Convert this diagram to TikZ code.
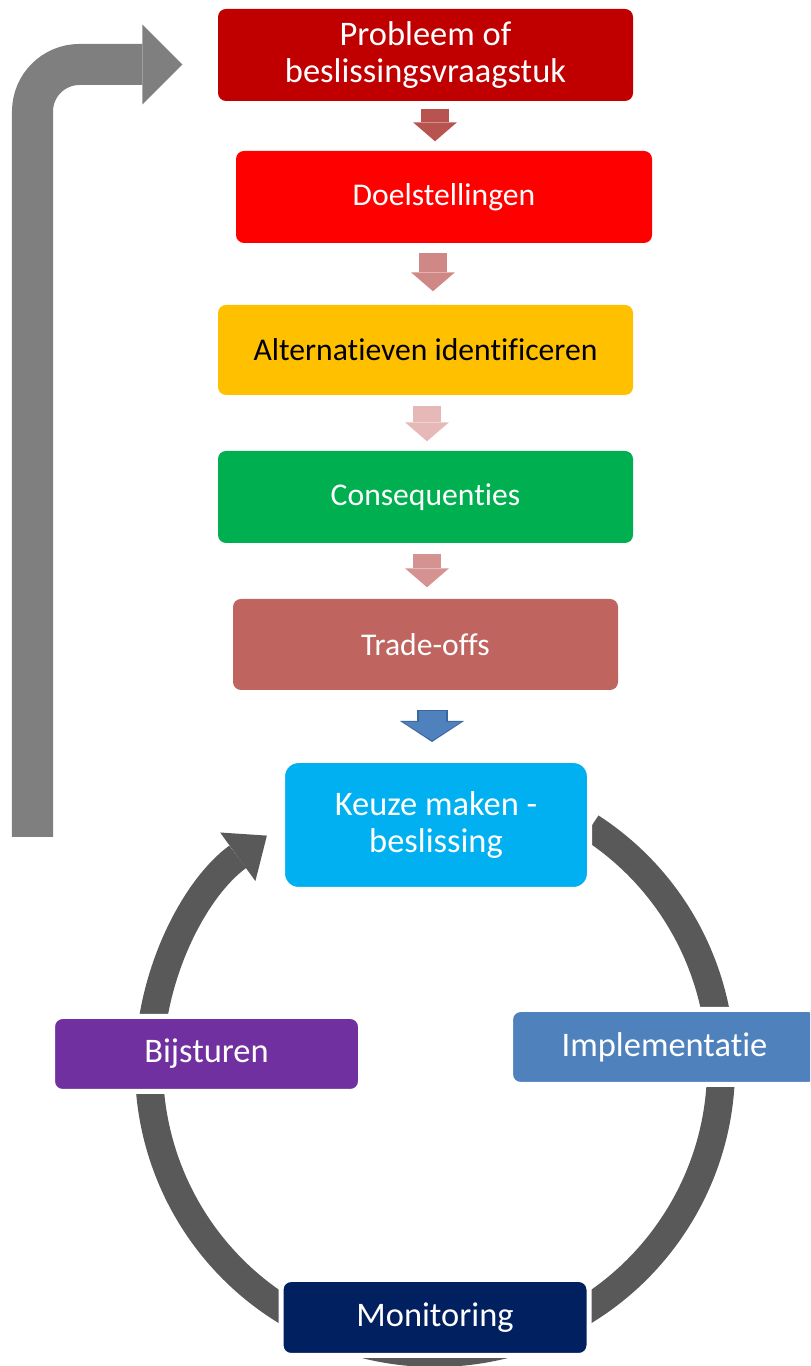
\documentclass[tikz,border=0pt]{standalone}
\usepackage{fontspec}
\setmainfont{Carlito}[Ligatures=NoCommon]
\usetikzlibrary{arrows.meta,positioning}
\definecolor{probleemrood}{HTML}{C00000}
\definecolor{doelrood}{HTML}{FF0000}
\definecolor{altgeel}{HTML}{FFC000}
\definecolor{consgroen}{HTML}{00B050}
\definecolor{tradeoffrood}{HTML}{BF645F}
\definecolor{keuzeblauw}{HTML}{00B0F0}
\definecolor{implblauw}{HTML}{4F81BD}
\definecolor{implrand}{HTML}{3A679C}
\definecolor{bijstpaars}{HTML}{7030A0}
\definecolor{monitorblauw}{HTML}{002060}
\definecolor{kringgrijs}{HTML}{595959}
\definecolor{teruggrijs}{HTML}{7F7F7F}
\definecolor{pijleen}{HTML}{B85450}
\definecolor{pijltwee}{HTML}{CF8886}
\definecolor{pijldrie}{HTML}{E6B9B8}
\definecolor{pijlvier}{HTML}{D49290}
\begin{document}
\begin{tikzpicture}[
        vak/.style={rectangle, rounded corners=0.08cm, minimum width=4.15cm, minimum height=0.92cm, inner sep=0pt, text=white, align=center, font=\fontsize{9.8}{10.3}\selectfont},
        kringvak/.style={vak, draw=white, line width=0.05cm, rounded corners=0.1cm, minimum width=3.08cm, minimum height=0.75cm},
        blokpijl/.style={line width=0.28cm, -{Triangle[width=0.44cm, length=0.19cm, line width=0pt]}},
        kringpijl/.style={draw=kringgrijs, line width=0.28cm, -{Triangle[width=0.6cm, length=0.36cm, line width=0pt]}},
        terugpijl/.style={draw=teruggrijs, line width=0.41cm, rounded corners=0.47cm, -{Triangle[width=0.8cm, length=0.4cm, line width=0pt]}}
    ]
        \clip (0,0) rectangle (8.1,13.66);
        % kring onderaan
        \coordinate (midden) at (4.35,2.99);
        \draw[kringpijl] ([shift={(57:2.86)}]midden) arc[start angle=57, end angle=-234, radius=2.86];

        % stappen
        \node[vak, fill=probleemrood] (probleem) at (4.255,13.11) {Probleem of\\beslissingsvraagstuk};
        \node[vak, fill=doelrood, minimum width=4.16cm, font=\fontsize{9}{10}\selectfont] (doel) at (4.44,11.69) {Doelstellingen};
        \node[vak, fill=altgeel, text=black, minimum height=0.9cm, font=\fontsize{9}{10}\selectfont] (alt) at (4.255,10.16) {Alternatieven identificeren};
        \node[vak, fill=consgroen, font=\fontsize{9}{10}\selectfont] (cons) at (4.255,8.69) {Consequenties};
        \node[vak, fill=tradeoffrood, minimum width=3.85cm, minimum height=0.91cm, font=\fontsize{9}{10}\selectfont] (tradeoff) at (4.255,7.215) {Trade-offs};
        \node[kringvak, fill=keuzeblauw, rounded corners=0.16cm, minimum width=3.07cm, minimum height=1.29cm] (keuze) at (4.36,5.41) {Keuze maken -\\beslissing};
        \node[kringvak, fill=implblauw] (impl) at (6.645,3.19) {Implementatie};
        \node[kringvak, fill=bijstpaars] (bijst) at (2.065,3.12) {Bijsturen};
        \node[kringvak, fill=monitorblauw, minimum height=0.76cm] (monitor) at (4.35,0.485) {Monitoring};

        % pijlen tussen de stappen
        \foreach \a/\b/\x/\s/\e/\kleur in {probleem/doel/4.35/0.07/0.09/pijleen, doel/alt/4.33/0.09/0.13/pijltwee, alt/cons/4.27/0.10/0.09/pijldrie, cons/tradeoff/4.27/0.10/0.11/pijlvier}{
        \draw[blokpijl, \kleur, shorten <=\s cm, shorten >=\e cm] (\a.south -| \x,0) -- (\b.north -| \x,0);
        }
        \draw[implrand, line width=0.31cm, shorten <=0.19cm, shorten >=0.16cm, -{Triangle[width=0.64cm, length=0.21cm, line width=0pt]}] (tradeoff.south -| 4.32,0) -- (keuze.north -| 4.32,0);
        \draw[implblauw, line width=0.27cm, shorten <=0.205cm, shorten >=0.175cm, -{Triangle[width=0.58cm, length=0.185cm, line width=0pt]}] (tradeoff.south -| 4.32,0) -- (keuze.north -| 4.32,0);

        % terug naar het begin
        \coordinate (terugstart) at (0.325,5.29);
        \draw[terugpijl] (terugstart) |- ([shift={(-0.35,-0.095)}]probleem.west);
\end{tikzpicture}
\end{document}
